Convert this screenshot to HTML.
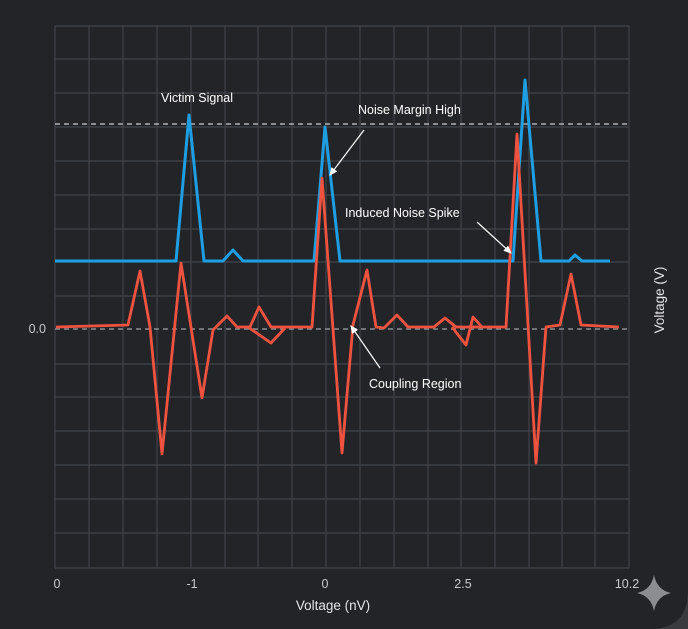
<!DOCTYPE html>
<html><head><style>
html,body{margin:0;padding:0;background:#3a3b3f;}
svg{display:block;font-family:"Liberation Sans",sans-serif;}
</style></head><body>
<svg width="688" height="629" viewBox="0 0 688 629">
<defs><marker id="ah" markerWidth="8" markerHeight="8" refX="6" refY="4" orient="auto"><path d="M0,1 L7,4 L0,7 z" fill="#fff"/></marker></defs>
<path d="M0,0 H688 V590 Q688,629 650,629 H0 Z" fill="#232428"/>
<g stroke="#404349" stroke-width="1.2">
<path d="M55,26V568M89,26V568M123,26V568M157,26V568M191,26V568M225,26V568M258,26V568M292,26V568M326,26V568M360,26V568M394,26V568M428,26V568M461,26V568M495,26V568M529,26V568M562,26V568M595,26V568M629,26V568"/>
<path d="M55,26H629M55,59H629M55,93H629M55,127H629M55,161H629M55,195H629M55,229H629M55,262H629M55,296H629M55,364H629M55,397H629M55,431H629M55,465H629M55,499H629M55,533H629M55,568H629"/>
</g>
<path d="M55,124H629" stroke="#aeb0b4" stroke-width="1.5" stroke-dasharray="5,4"/>
<path d="M55,329H629" stroke="#8a8d92" stroke-width="1.5" stroke-dasharray="5,4"/>
<polyline fill="none" stroke="#1e9fe3" stroke-width="3" stroke-linejoin="round" points="55,261 176,261 189,115 204,261 223,261 233,250 243,261 314,261 325,127 340,261 513,261 525,80 541,261 569,261 575,255 582,261 610,261"/>
<polyline fill="none" stroke="#ef5340" stroke-width="2.8" stroke-linejoin="round" points="56,327 128,325 140,271 150,327 162,454 181,263 202,398 213,330 227,316 237,327 250,327 259,307 271,327 285,327 312,327 322,178 342,453 353,325 367,270 376,327 384,328 397,315 408,327 434,327 445,318 456,327 482,327 506,327 517,134 536,463 546,327 560,325 571,274 581,325 619,327"/>
<polyline fill="none" stroke="#ef5340" stroke-width="2.8" stroke-linejoin="round" points="248,327 271,343 285,328"/>
<polyline fill="none" stroke="#ef5340" stroke-width="2.8" stroke-linejoin="round" points="452,327 466,345 473,317 482,327"/>
<g fill="#fff" font-size="12.5">
<text x="161" y="102">Victim Signal</text>
<text x="358" y="114">Noise Margin High</text>
<text x="345" y="217">Induced Noise Spike</text>
<text x="369" y="388">Coupling Region</text>
</g>
<g stroke="#fff" stroke-width="1.2" marker-end="url(#ah)">
<line x1="364" y1="130" x2="330" y2="175"/>
<line x1="477" y1="222" x2="511" y2="253"/>
<line x1="380" y1="368" x2="351" y2="326"/>
</g>
<g fill="#c8cacd" font-size="12.5">
<text x="46" y="333" text-anchor="end">0.0</text>
<text x="57" y="588" text-anchor="middle">0</text>
<text x="192" y="588" text-anchor="middle">-1</text>
<text x="325" y="588" text-anchor="middle">0</text>
<text x="463" y="588" text-anchor="middle">2.5</text>
<text x="627" y="588" text-anchor="middle">10.2</text>
</g>
<text x="333" y="610" fill="#e4e5e7" font-size="13.5" text-anchor="middle">Voltage (nV)</text>
<text transform="translate(664,300) rotate(-90)" fill="#e4e5e7" font-size="13.5" text-anchor="middle">Voltage (V)</text>
<path d="M654,575 Q657,590 671,593 Q657,596 654,611 Q651,596 637,593 Q651,590 654,575 Z" fill="#8c8d90"/>
</svg>
</body></html>
